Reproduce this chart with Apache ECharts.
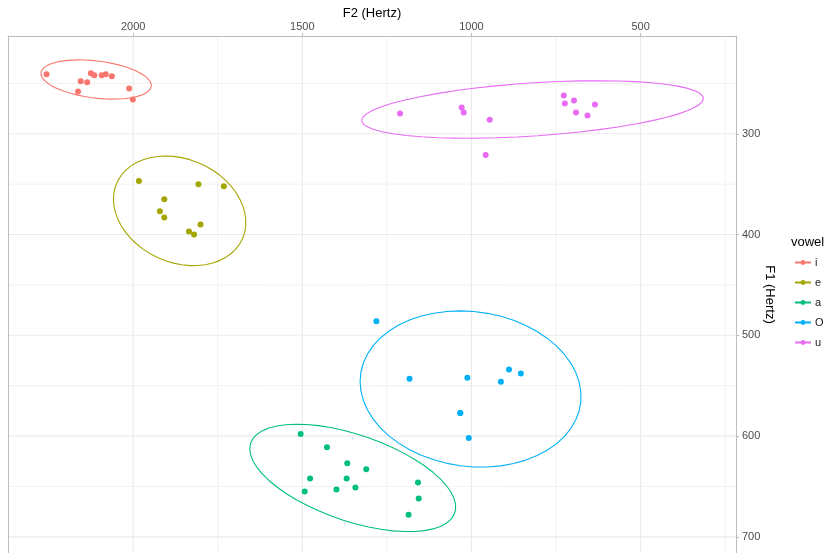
<!DOCTYPE html>
<html>
<head>
<meta charset="utf-8">
<script src="https://cdn.jsdelivr.net/npm/echarts@6/dist/echarts.min.js"></script>
<style>
  html, body { margin: 0; padding: 0; background: #ffffff; }
  #chart { width: 826px; height: 553px; }
</style>
</head>
<body>
<div id="chart"></div>
<script>
// Vowel formant measurements (Hz)
const vowels = ['i', 'e', 'a', 'O', 'u'];
const vowelColors = ['#F8766D', '#A3A500', '#00BF7D', '#00B0F6', '#E76BF3'];

const f2_i = [2256, 2155, 2136, 2163, 2125, 2115, 2093, 2081, 2063, 2012, 2001];
const f1_i = [241, 248, 249, 258, 240, 242, 242, 241, 243, 255, 266];

const f2_e = [1983, 1807, 1732, 1908, 1921, 1908, 1801, 1835, 1820];
const f1_e = [347, 350, 352, 365, 377, 383, 390, 397, 400];

const f2_a = [1505, 1427, 1367, 1311, 1477, 1369, 1493, 1399, 1343, 1158, 1156, 1186];
const f1_a = [598, 611, 627, 633, 642, 642, 655, 653, 651, 646, 662, 678];

// two tokens of O share the same values (1033, 577)
const f2_O = [1281, 1183, 1012, 913, 889, 854, 1033, 1033, 1008];
const f1_O = [486, 543, 542, 546, 534, 538, 577, 577, 602];

const f2_u = [1211, 1029, 1023, 946, 958, 727, 724, 697, 635, 691, 657];
const f1_u = [280, 274, 279, 286, 321, 262, 270, 267, 271, 279, 282];

// Axis breaks
const f2Major = [2000, 1500, 1000, 500];
const f2Minor = [1750, 1250, 750, 250];
const f1Major = [300, 400, 500, 600, 700];
const f1Minor = [250, 350, 450, 550, 650];

// Axis limits
const xMin = 218, xMax = 2370;
const yMin = 203, yMax = 716;

const f2Sets = [f2_i, f2_e, f2_a, f2_O, f2_u];
const f1Sets = [f1_i, f1_e, f1_a, f1_O, f1_u];

// Robust multivariate t covariance (same algorithm as MASS::cov.trob)
function covTrob(pts, nu, maxit, tol) {
  const n = pts.length, p = 2;
  let loc = [0, 0];
  pts.forEach(q => { loc[0] += q[0] / n; loc[1] += q[1] / n; });
  let w = pts.map(() => 1);
  let X = null;
  for (let iter = 0; iter < maxit; iter++) {
    const w0 = w.slice();
    X = pts.map(q => [q[0] - loc[0], q[1] - loc[1]]);
    const sw = w.reduce((s, v) => s + v, 0);
    let s11 = 0, s12 = 0, s22 = 0;
    X.forEach((v, i) => {
      const k = w[i] / sw;
      s11 += k * v[0] * v[0];
      s12 += k * v[0] * v[1];
      s22 += k * v[1] * v[1];
    });
    const det = s11 * s22 - s12 * s12;
    const Q = X.map(v => (s22 * v[0] * v[0] - 2 * s12 * v[0] * v[1] + s11 * v[1] * v[1]) / det);
    w = Q.map(q => (nu + p) / (nu + q));
    const sw2 = w.reduce((s, v) => s + v, 0);
    loc = [0, 0];
    pts.forEach((q, i) => { loc[0] += w[i] * q[0] / sw2; loc[1] += w[i] * q[1] / sw2; });
    if (w.every((v, i) => Math.abs(v - w0[i]) < tol)) break;
  }
  let c11 = 0, c12 = 0, c22 = 0;
  X.forEach((v, i) => {
    c11 += w[i] * v[0] * v[0] / n;
    c12 += w[i] * v[0] * v[1] / n;
    c22 += w[i] * v[1] * v[1] / n;
  });
  return { center: loc, cov: [c11, c12, c22] };
}

// 95% confidence ellipse, 51 segments
function ellipsePath(pts) {
  const n = pts.length;
  const dfd = n - 1;
  const level = 0.95;
  const fq = (dfd / 2) * (Math.pow(1 - level, -2 / dfd) - 1); // F quantile, 2 numerator df
  const radius = Math.sqrt(2 * fq);
  const t = covTrob(pts, 5, 25, 0.01);
  const [c11, c12, c22] = t.cov;
  const r11 = Math.sqrt(c11);
  const r12 = c12 / r11;
  const r22 = Math.sqrt(c22 - r12 * r12);
  const segs = 51;
  const out = [];
  for (let k = 0; k <= segs; k++) {
    const a = k * 2 * Math.PI / segs;
    const c = Math.cos(a), s = Math.sin(a);
    out.push([t.center[0] + radius * c * r11, t.center[1] + radius * (c * r12 + s * r22)]);
  }
  return out;
}

function gridLines(values, vertical, width) {
  return {
    type: 'custom',
    silent: true,
    animation: false,
    z: 0,
    data: values.map(v => vertical ? [v, yMin] : [xMin, v]),
    renderItem(params, api) {
      let p1, p2;
      if (vertical) {
        const v = api.value(0);
        p1 = api.coord([v, yMin]);
        p2 = api.coord([v, yMax]);
      } else {
        const v = api.value(1);
        p1 = api.coord([xMin, v]);
        p2 = api.coord([xMax, v]);
      }
      return {
        type: 'line',
        shape: { x1: p1[0], y1: p1[1], x2: p2[0], y2: p2[1] },
        style: { stroke: '#EBEBEB', lineWidth: width }
      };
    }
  };
}

const FONT = 'Liberation Sans, Arial, Helvetica, sans-serif';

const series = [
  gridLines(f2Minor, true, 0.7),
  gridLines(f1Minor, false, 0.7),
  gridLines(f2Major, true, 1.1),
  gridLines(f1Major, false, 1.1)
];

vowels.forEach((v, k) => {
  const pts = f2Sets[k].map((x, i) => [x, f1Sets[k][i]]);
  series.push({
    name: v,
    type: 'line',
    data: ellipsePath(pts),
    showSymbol: false,
    symbol: 'circle',
    smooth: false,
    silent: true,
    animation: false,
    z: 2,
    color: vowelColors[k],
    lineStyle: { width: 1.1, color: vowelColors[k] }
  });
  series.push({
    name: v + ' tokens',
    type: 'scatter',
    data: pts,
    symbol: 'circle',
    symbolSize: 6,
    silent: true,
    animation: false,
    z: 3,
    itemStyle: { color: vowelColors[k], opacity: 1 }
  });
});

const plainNumber = v => String(v);

const chart = echarts.init(document.getElementById('chart'), null, { renderer: 'canvas' });
chart.setOption({
  backgroundColor: '#ffffff',
  animation: false,
  textStyle: { fontFamily: FONT },
  title: {
    text: 'vowel',
    left: 791,
    top: 236,
    padding: 0,
    textStyle: { fontSize: 13, fontWeight: 'normal', color: '#000000', fontFamily: FONT }
  },
  legend: {
    data: vowels,
    orient: 'vertical',
    left: 794,
    top: 257,
    itemWidth: 16,
    itemHeight: 6,
    itemGap: 9,
    padding: 0,
    selectedMode: false,
    textStyle: { fontSize: 11, color: '#1A1A1A', fontFamily: FONT, padding: [0, 0, 0, -1] }
  },
  grid: { left: 8, right: 90, top: 36, bottom: 0, containLabel: false },
  xAxis: {
    type: 'value',
    position: 'top',
    inverse: true,
    min: xMin,
    max: xMax,
    name: 'F2 (Hertz)',
    nameLocation: 'middle',
    nameGap: 16,
    nameMoveOverlap: false,
    nameTextStyle: { fontSize: 13, color: '#000000', fontFamily: FONT },
    axisLine: { show: true, lineStyle: { color: '#BDBDBD', width: 1 } },
    axisTick: { show: true, length: 3, customValues: f2Major, lineStyle: { color: '#BDBDBD', width: 1 } },
    axisLabel: { customValues: f2Major, formatter: plainNumber, margin: 4, fontSize: 11, color: '#4D4D4D', fontFamily: FONT },
    splitLine: { show: false }
  },
  yAxis: [
    {
      type: 'value',
      position: 'right',
      inverse: true,
      min: yMin,
      max: yMax,
      name: 'F1 (Hertz)',
      nameLocation: 'middle',
      nameRotate: -90,
      nameGap: 27,
      nameMoveOverlap: false,
      nameTextStyle: { fontSize: 13, color: '#000000', fontFamily: FONT },
      axisLine: { show: true, lineStyle: { color: '#BDBDBD', width: 1 } },
      axisTick: { show: true, length: 3, customValues: f1Major, lineStyle: { color: '#BDBDBD', width: 1 } },
      axisLabel: { customValues: f1Major, formatter: plainNumber, margin: 6, fontSize: 11, color: '#4D4D4D', fontFamily: FONT },
      splitLine: { show: false }
    },
    {
      type: 'value',
      position: 'left',
      inverse: true,
      min: yMin,
      max: yMax,
      axisLine: { show: true, lineStyle: { color: '#BDBDBD', width: 1 } },
      axisTick: { show: false },
      axisLabel: { show: false },
      splitLine: { show: false }
    }
  ],
  series: series
});
</script>
</body>
</html>
